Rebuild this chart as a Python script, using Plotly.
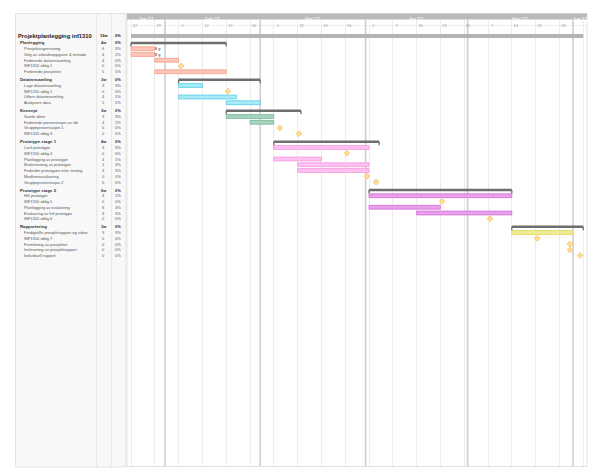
import plotly.graph_objects as go
import pandas as pd

W, H = 602, 475

# ---------------- data ----------------
project_name = "Projektplanlegging inf1310"
project_start = "2017-01-22"
project_end = "2017-06-04"
project_dur = "19w"
project_pct = "0%"

group_names = ["Planlegging", "Datainnsamling", "Konsept",
               "Prototype stage 1", "Prototype stage 2", "Rapportering"]
group_starts = ["2017-01-22", "2017-02-05", "2017-02-19", "2017-03-05", "2017-04-02", "2017-05-14"]
group_ends = ["2017-02-19", "2017-03-01", "2017-03-13", "2017-04-05", "2017-05-14", "2017-06-04"]
group_durs = ["4w", "3w", "3w", "4w", "6w", "3w"]
group_pcts = ["0%", "0%", "0%", "0%", "0%", "0%"]

task_group = [0] * 5 + [1] * 4 + [2] * 4 + [3] * 7 + [4] * 5 + [5] * 5
task_names = [
    "Prosjektavgrensning", "Valg av arbeidsoppgaver & metode", "Forberede datainnsamling",
    "INF1310 oblig 1", "Forberede prosjektet",
    "Lage datainnsamling", "INF1310 oblig 2", "Utføre datainnsamling", "Analysere data",
    "Samle ideer", "Forberede presentasjon av idé", "Gruppepresentasjon 1", "INF1310 oblig 3",
    "Lavfi prototype", "INF1310 oblig 4", "Planlegging av prototype", "Brukertesting av prototype",
    "Forbedre prototypen etter testing", "Medlemsevaluering", "Gruppepresentasjon 2",
    "Hifi prototype", "INF1310 oblig 5", "Planlegging av evaluering",
    "Evaluering av hifi prototype", "INF1310 oblig 6",
    "Ferdigstille prosjektrapport og video", "INF1310 oblig 7", "Fremføring av prosjektet",
    "Innlevering av prosjektrapport", "Individuell rapport",
]
task_starts = [
    "2017-01-22", "2017-01-22", "2017-01-29", "2017-02-05 17:00", "2017-01-29",
    "2017-02-05", "2017-02-19 12:00", "2017-02-05", "2017-02-19",
    "2017-02-19", "2017-02-26", "2017-03-06 19:00", "2017-03-12 10:00",
    "2017-03-05", "2017-03-26 12:00", "2017-03-05", "2017-03-12", "2017-03-12",
    "2017-04-01 10:00", "2017-04-04 02:00",
    "2017-04-02", "2017-04-23 12:00", "2017-04-02", "2017-04-16", "2017-05-07 14:00",
    "2017-05-14", "2017-05-21 10:00", "2017-05-31 02:00", "2017-05-31 02:00", "2017-06-03 02:00",
]
task_ends = [
    "2017-01-29", "2017-01-29", "2017-02-05", None, "2017-02-19",
    "2017-02-12", None, "2017-02-22", "2017-03-01",
    "2017-03-05", "2017-03-05", None, None,
    "2017-04-02", None, "2017-03-19", "2017-04-02", "2017-04-02", None, None,
    "2017-05-14", None, "2017-04-23", "2017-05-14", None,
    "2017-06-01", None, None, None, None,
]
task_durs = ["6", "4", "4", "0", "5",
             "3", "0", "4", "5",
             "3", "4", "0", "0",
             "3", "0", "4", "1", "3", "0", "0",
             "4", "0", "6", "3", "0",
             "3", "0", "0", "0", "0"]
task_pcts = ["3%", "2%", "0%", "0%", "5%",
             "3%", "0%", "1%", "5%",
             "3%", "2%", "0%", "0%",
             "3%", "0%", "1%", "3%", "3%", "0%", "0%",
             "1%", "0%", "3%", "3%", "0%",
             "3%", "0%", "0%", "0%", "0%"]
task_bar_text = ["8 g", "8 g"] + [""] * 28

month_labels = ["Jan '17", "Feb '17", "Mar '17", "Apr '17", "May '17", "Jun '17"]
month_starts = ["2017-01-01", "2017-02-01", "2017-03-01", "2017-04-01", "2017-05-01", "2017-06-01", "2017-07-01"]

# ---------------- styles ----------------
group_fill = ["#fdc5b7", "#a9eaf6", "#a9d4c0", "#fdc2f1", "#e8a0ea", "#f0ec9c"]
group_line = ["#f7a58f", "#62d2e8", "#7dbb9f", "#f59fe2", "#d776da", "#e0da5a"]

def px_x(v):
    return v / W

def px_y(v):
    return 1 - v / H

# row positions (row units)
ROW_PX = 5.75
GAP0 = 7 / ROW_PX
GAP = 8 / ROW_PX
proj_pos = 0.0
group_pos = []
task_pos = [0.0] * len(task_names)
p = proj_pos
for gi in range(len(group_names)):
    p += GAP0 if gi == 0 else GAP
    group_pos.append(p)
    for ti, g in enumerate(task_group):
        if g == gi:
            p += 1.0
            task_pos[ti] = p

TOP_PX, BOT_PX, ROW0_PX = 19.5, 466.0, 36.0
y_top = (TOP_PX - ROW0_PX) / ROW_PX
y_bot = (BOT_PX - ROW0_PX) / ROW_PX

X_LEFT_PX, X_RIGHT_PX = 127.0, 587.0
x_range = ["2017-01-20 19:46", "2017-06-05 02:50"]

def dur_ms(s, e):
    return (pd.Timestamp(e) - pd.Timestamp(s)).total_seconds() * 1000

fig = go.Figure()

# project bar
fig.add_trace(go.Bar(
    y=[proj_pos], base=[project_start], x=[dur_ms(project_start, project_end)],
    orientation="h", width=0.68, marker=dict(color="#b3b3b3", line=dict(width=0)),
    hoverinfo="skip", showlegend=False))

# group summary bars
fig.add_trace(go.Bar(
    y=group_pos, base=group_starts,
    x=[dur_ms(s, e) for s, e in zip(group_starts, group_ends)],
    orientation="h", width=0.45, marker=dict(color="#6e6e6e", line=dict(width=0)),
    hoverinfo="skip", showlegend=False))

# bracket hooks
hx, hy = [], []
for s, e, yp in zip(group_starts, group_ends, group_pos):
    for d in (s, e):
        hx += [d, d, None]
        hy += [yp, yp + 0.62, None]
fig.add_trace(go.Scatter(x=hx, y=hy, mode="lines",
                         line=dict(color="#6e6e6e", width=1.3),
                         hoverinfo="skip", showlegend=False))

# task bars
bt = [i for i in range(len(task_names)) if task_ends[i] is not None]
fig.add_trace(go.Bar(
    y=[task_pos[i] for i in bt], base=[task_starts[i] for i in bt],
    x=[dur_ms(task_starts[i], task_ends[i]) for i in bt],
    orientation="h", width=0.66,
    marker=dict(color=[group_fill[task_group[i]] for i in bt],
                line=dict(color=[group_line[task_group[i]] for i in bt], width=0.9)),
    hoverinfo="skip", showlegend=False))

# milestones
mt = [i for i in range(len(task_names)) if task_ends[i] is None]
fig.add_trace(go.Scatter(
    x=[task_starts[i] for i in mt], y=[task_pos[i] for i in mt], mode="markers",
    marker=dict(symbol="diamond", size=4.5, color="#ffdc96",
                line=dict(color="#f6b852", width=0.6)),
    hoverinfo="skip", showlegend=False))

# text next to bars
lt = [i for i in range(len(task_names)) if task_bar_text[i]]
fig.add_trace(go.Scatter(
    x=[task_ends[i] for i in lt], y=[task_pos[i] for i in lt], mode="text",
    text=[task_bar_text[i] for i in lt], textposition="middle right",
    textfont=dict(size=4, color="#333", family="Liberation Sans"),
    hoverinfo="skip", showlegend=False, cliponaxis=False))

shapes = []
annotations = []

# left panel
shapes.append(dict(type="rect", xref="paper", yref="paper", layer="below",
                   x0=px_x(15.5), x1=px_x(126), y0=px_y(467), y1=px_y(13.5),
                   fillcolor="#f8f8f8", line=dict(color="#e3e3e3", width=1)))
for cx in (96.7, 111.7):
    shapes.append(dict(type="line", xref="paper", yref="paper", layer="below",
                       x0=px_x(cx), x1=px_x(cx), y0=px_y(467), y1=px_y(13.5),
                       line=dict(color="#e6e6e6", width=1)))
# timeline border
shapes.append(dict(type="rect", xref="paper", yref="paper", layer="below",
                   x0=px_x(X_LEFT_PX), x1=px_x(X_RIGHT_PX), y0=px_y(466.5), y1=px_y(13.5),
                   fillcolor="white", line=dict(color="#e3e3e3", width=1)))
# month band
shapes.append(dict(type="rect", xref="paper", yref="paper", layer="below",
                   x0=px_x(X_LEFT_PX), x1=px_x(X_RIGHT_PX), y0=px_y(19.5), y1=px_y(13.5),
                   fillcolor="#b9b9b9", line=dict(width=0)))
shapes.append(dict(type="line", xref="paper", yref="paper", layer="below",
                   x0=px_x(X_LEFT_PX), x1=px_x(X_RIGHT_PX), y0=px_y(25.5), y1=px_y(25.5),
                   line=dict(color="#eeeeee", width=1)))

rl, rr = pd.Timestamp(x_range[0]), pd.Timestamp(x_range[1])
for k, lab in enumerate(month_labels):
    ms, me = pd.Timestamp(month_starts[k]), pd.Timestamp(month_starts[k + 1])
    a, b = max(ms, rl), min(me, rr)
    mid = a + (b - a) / 2
    annotations.append(dict(x=mid, y=px_y(16.4), xref="x", yref="paper", text=lab,
                            showarrow=False, borderpad=0,
                            font=dict(size=4.5, color="white", family="Liberation Sans")))
    if rl < ms < rr:
        shapes.append(dict(type="line", xref="x", yref="paper", layer="below",
                           x0=ms, x1=ms, y0=px_y(BOT_PX), y1=px_y(TOP_PX),
                           line=dict(color="#cdcdcd", width=1.6)))

# left-panel text
FONT = "Liberation Sans"
def row_text(ypos, name, dur, pct, xname, size, bold, color):
    t = f"<b>{name}</b>" if bold else name
    annotations.append(dict(x=px_x(xname), y=ypos, xref="paper", yref="y", text=t,
                            xanchor="left", showarrow=False, borderpad=0,
                            font=dict(size=size, color=color, family=FONT)))
    for cx, v in ((103.5, dur), (118, pct)):
        tv = f"<b>{v}</b>" if bold else v
        annotations.append(dict(x=px_x(cx), y=ypos, xref="paper", yref="y", text=tv,
                                xanchor="center", showarrow=False, borderpad=0,
                                font=dict(size=4, color=color, family=FONT)))

row_text(proj_pos, project_name, project_dur, project_pct, 16.5, 5.8, True, "#222")
for gi, gname in enumerate(group_names):
    row_text(group_pos[gi], gname, group_durs[gi], group_pcts[gi], 18.5, 4.3, True, "#333")
for ti, tname in enumerate(task_names):
    row_text(task_pos[ti], tname, task_durs[ti], task_pcts[ti], 23, 4, False, "#555")

fig.update_layout(
    width=W, height=H, margin=dict(l=0, r=0, t=0, b=0),
    paper_bgcolor="white", plot_bgcolor="rgba(0,0,0,0)",
    barmode="overlay", showlegend=False,
    shapes=shapes, annotations=annotations,
    xaxis=dict(type="date", domain=[px_x(X_LEFT_PX), px_x(X_RIGHT_PX)], range=x_range,
               side="top", tick0="2017-01-22", dtick=7 * 86400000, tickformat="%-d",
               ticklabelposition="inside", ticklabelshift=4, ticklabelstandoff=2, ticks="",
               tickfont=dict(size=4, color="#9a9a9a", family=FONT),
               showgrid=True, gridcolor="#ececec", gridwidth=1,
               showline=False, zeroline=False, fixedrange=True),
    yaxis=dict(domain=[px_y(BOT_PX), px_y(TOP_PX)], range=[y_bot, y_top],
               showgrid=False, showticklabels=False, zeroline=False, showline=False,
               fixedrange=True),
)

fig.write_html("out.html", config={"displayModeBar": False},
               post_script="document.body.style.margin='0';")
